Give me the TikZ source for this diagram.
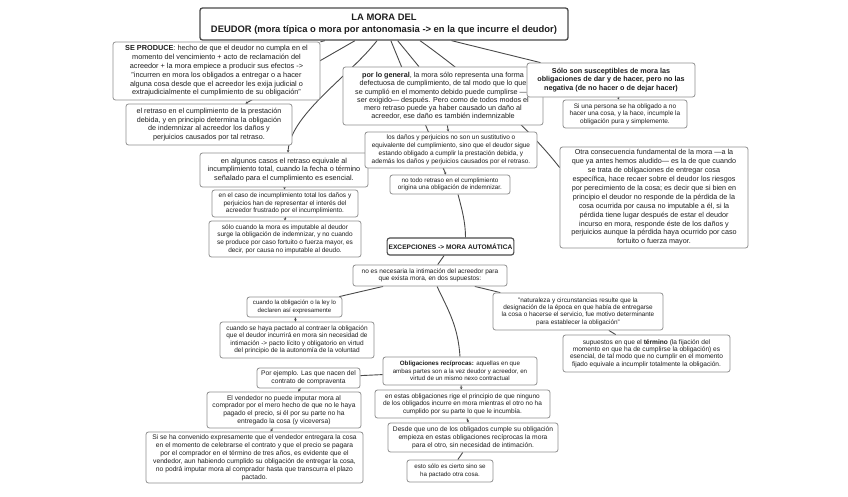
\documentclass[tikz,border=0pt]{standalone}
\usepackage{fontspec}
\setmainfont{Liberation Sans}
\usetikzlibrary{arrows.meta,backgrounds,calc}
\definecolor{gris}{HTML}{8F8F8F}
\definecolor{grisosc}{HTML}{4A4A4A}
\definecolor{tinta}{HTML}{1E1E1E}
\newcommand{\tam}[2]{\fontsize{#1}{#2}\selectfont}

\begin{document}
\begin{tikzpicture}[x=1pt, y=-1pt,
    concepto/.style={draw=gris, line width=0.8pt, rounded corners=2.5pt, fill=white,
      align=center, inner sep=1.5pt, text=tinta},
    titulo/.style={concepto, draw=grisosc, line width=1.3pt, font=\tam{9.4}{12.5}\bfseries},
    enlace/.style={draw=grisosc, line width=0.9pt},
    flecha/.style={enlace, -{Stealth[length=2.5pt,width=2.5pt]}}]
  \useasboundingbox (0,0) rectangle (848,496);
  \begin{scope}[on background layer]
    \fill[white] (0,0) rectangle (848,496);
  \end{scope}

  % columna izquierda
  \node[titulo, minimum width=368pt, minimum height=32pt] (mora) at (384,24)
    {LA MORA DEL\\ DEUDOR (mora típica o mora por antonomasia -> en la que incurre el deudor)};
  \node[concepto, minimum width=207pt, minimum height=58pt, font=\tam{7.3}{8.8}] (produce) at (216.5,71)
    {\textbf{SE PRODUCE}: hecho de que el deudor no cumpla en el\\ momento del vencimiento + acto de reclamación del\\
     acreedor + la mora empiece a producir sus efectos ->\\ "incurren en mora los obligados a entregar o a hacer\\
     alguna cosa desde que el acreedor les exija judicial o\\ extrajudicialmente el cumplimiento de su obligación"};
  \node[concepto, minimum width=166pt, minimum height=41pt, font=\tam{7.2}{8.5}] (retraso) at (209,124.5)
    {el retraso en el cumplimiento de la prestación\\ debida, y en principio determina la obligación\\
     de indemnizar al acreedor los daños y\\ perjuicios causados por tal retraso.};
  \node[concepto, minimum width=168pt, minimum height=34pt, font=\tam{7.3}{8.7}] (algunos) at (284,170)
    {en algunos casos el retraso equivale al\\ incumplimiento total, cuando la fecha o término\\
     señalado para el cumplimiento es esencial.};
  \node[concepto, minimum width=146pt, minimum height=27pt, font=\tam{6.5}{7.3}] (caso) at (285,203.5)
    {en el caso de incumplimiento total los daños y\\ perjuicios han de representar el interés del\\
     acreedor frustrado por el incumplimiento.};
  \node[concepto, minimum width=152pt, minimum height=36pt, font=\tam{6.5}{7.6}] (solo) at (285,239)
    {sólo cuando la mora es imputable al deudor\\ surge la obligación de indemnizar, y no cuando\\
     se produce por caso fortuito o fuerza mayor, es\\ decir, por causa no imputable al deudo.};

  % centro y derecha
  \node[concepto, minimum width=200pt, minimum height=58pt, font=\tam{7.2}{8.3}] (general) at (443,96)
    {\textbf{por lo general}, la mora sólo representa una forma\\ defectuosa de cumplimiento, de tal modo que lo que\\
     se cumplió en el momento debido puede cumplirse —o\\ ser exigido— después. Pero como de todos modos el\\
     mero retraso puede ya haber causado un daño al\\ acreedor, ese daño es también indemnizable};
  \node[concepto, minimum width=168pt, minimum height=34pt, font=\tam{7.2}{8.3}\bfseries] (susceptibles) at (611,80)
    {Sólo son susceptibles de mora las\\ obligaciones de dar y de hacer, pero no las\\ negativa (de no hacer o de dejar hacer)};
  \node[concepto, minimum width=124pt, minimum height=28pt, font=\tam{6.5}{7.5}] (persona) at (625,114)
    {Si una persona se ha obligado a no\\ hacer una cosa, y la hace, incumple la\\ obligación pura y simplemente.};
  \node[concepto, minimum width=172pt, minimum height=36pt, font=\tam{6.5}{7.8}] (danos) at (451,150)
    {los daños y perjuicios no son un sustitutivo o\\ equivalente del cumplimiento, sino que el deudor sigue\\
     estando obligado a cumplir la prestación debida, y\\ además los daños y perjuicios causados por el retraso.};
  \node[concepto, minimum width=120pt, minimum height=19pt, font=\tam{6.3}{7}] (notodo) at (450,184.5)
    {no todo retraso en el cumplimiento\\ origina una obligación de indemnizar.};
  \node[concepto, minimum width=188pt, minimum height=101pt, font=\tam{7.2}{8.9}] (otra) at (654,197.5)
    {Otra consecuencia fundamental de la mora —a la\\ que ya antes hemos aludido— es la de que cuando\\
     se trata de obligaciones de entregar cosa\\ específica, hace recaer sobre el deudor los riesgos\\
     por perecimiento de la cosa; es decir que si bien en\\ principio el deudor no responde de la pérdida de la\\
     cosa ocurrida por causa no imputable a él, si la\\ pérdida tiene lugar después de estar el deudor\\
     incurso en mora, responde éste de los daños y\\ perjuicios aunque la pérdida haya ocurrido por caso\\
     fortuito o fuerza mayor.};

  % excepciones
  \node[concepto, draw=grisosc, line width=1.1pt, minimum width=125pt, minimum height=17pt,
        font=\tam{6.6}{8}\bfseries] (excep) at (450.5,246.5) {EXCEPCIONES -> MORA AUTOMÁTICA};
  \node[concepto, minimum width=154pt, minimum height=21pt, font=\tam{6.5}{7.2}] (intimacion) at (430,275.5)
    {no es necesaria la intimación del acreedor para\\ que exista mora, en dos supuestos:};
  \node[concepto, minimum width=95pt, minimum height=20pt, font=\tam{6.1}{7.8}] (ley) at (294.5,307)
    {cuando la obligación o la ley lo\\ declaren así expresamente};
  \node[concepto, minimum width=154pt, minimum height=36pt, font=\tam{6.5}{7.5}] (pacto) at (297,340)
    {cuando se haya pactado al contraer la obligación\\ que el deudor incurrirá en mora sin necesidad de\\
     intimación -> pacto lícito y obligatorio en virtud\\ del principio de la autonomía de la voluntad};
  \node[concepto, minimum width=170pt, minimum height=37pt, font=\tam{6.4}{7.3}] (naturaleza) at (578,311.5)
    {"naturaleza y circunstancias resulte que la\\ designación de la época en que había de entregarse\\
     la cosa o hacerse el servicio, fue motivo determinante\\ para establecer la obligación"};
  \node[concepto, minimum width=167pt, minimum height=37pt, font=\tam{6.6}{7.3}] (termino) at (646.5,353.5)
    {supuestos en que el \textbf{término} (la fijación del\\ momento en que ha de cumplirse la obligación) es\\
     esencial, de tal modo que no cumplir en el momento\\ fijado equivale a incumplir totalmente la obligación.};
  \node[concepto, minimum width=154pt, minimum height=28pt, font=\tam{6.2}{7.5}] (reciprocas) at (460,371)
    {\textbf{Obligaciones recíprocas:} aquellas en que\\ ambas partes son a la vez deudor y acreedor, en\\
     virtud de un mismo nexo contractual};
  \node[concepto, minimum width=175pt, minimum height=28pt, font=\tam{6.5}{7.5}] (rige) at (462.5,404)
    {en estas obligaciones rige el principio de que ninguno\\ de los obligados incurre en mora mientras el otro no ha\\
     cumplido por su parte lo que le incumbía.};
  \node[concepto, minimum width=170pt, minimum height=29pt, font=\tam{6.7}{8}] (desde) at (473,437.5)
    {Desde que uno de los obligados cumple su obligación\\ empieza en estas obligaciones recíprocas la mora\\
     para el otro, sin necesidad de intimación.};
  \node[concepto, minimum width=86pt, minimum height=22pt, font=\tam{6.2}{8.2}] (cierto) at (450,471)
    {esto sólo es cierto sino se\\ ha pactado otra cosa.};
  \node[concepto, minimum width=103pt, minimum height=20pt, font=\tam{6.7}{8}] (ejemplo) at (308.5,378)
    {Por ejemplo. Las que nacen del\\ contrato de compraventa};
  \node[concepto, minimum width=154pt, minimum height=36pt, font=\tam{6.7}{7.8}] (vendedor) at (284,410)
    {El vendedor no puede imputar mora al\\ comprador por el mero hecho de que no le haya\\
     pagado el precio, si él por su parte no ha\\ entregado la cosa (y viceversa)};
  \node[concepto, minimum width=217pt, minimum height=51pt, font=\tam{6.7}{8}] (convenido) at (254.5,457.5)
    {Si se ha convenido expresamente que el vendedor entregara la cosa\\ en el momento de celebrarse el contrato y que el precio se pagara\\
     por el comprador en el término de tres años, es evidente que el\\ vendedor, aun habiendo cumplido su obligación de entregar la cosa,\\
     no podrá imputar mora al comprador hasta que transcurra el plazo\\ pactado.};

  % enlaces
  \begin{scope}[on background layer]
    \draw[enlace] (mora) -- (produce);
    \draw[flecha] (mora) -- (retraso);
    \draw[flecha] ($(mora.south)+(-7,0)$) .. controls +(-27,35) and +(2,-38) .. ($(algunos.north)+(4,0)$);
    \draw[flecha] (algunos) -- (caso);
    \draw[flecha] (caso) -- (solo);
    \draw[enlace] (mora) -- (general);
    \draw[flecha] (general) -- (danos);
    \draw[flecha] (mora) -- (notodo);
    \draw[enlace] (mora) -- (susceptibles);
    \draw[flecha] (susceptibles) -- (persona);
    \draw[enlace] ($(mora.south)+(36,0)$) .. controls +(45,32) and +(-35,-45) .. ($(otra.west)+(0,-30)$);
    \draw[enlace] ($(notodo.south)+(8,0)$) .. controls +(4,15) and +(0,-15) .. ($(excep.north)+(15,0)$);
    \draw[enlace] (excep) -- (intimacion);
    \draw[enlace] (intimacion) -- (ley);
    \draw[enlace] (intimacion) -- (naturaleza);
    \draw[enlace] ($(intimacion.south)+(7,0)$) .. controls +(12,25) and +(-2,-30) .. (reciprocas.north);
    \draw[flecha] (ley) -- (pacto);
    \draw[enlace] (naturaleza) -- (termino);
    \draw[enlace] (reciprocas) -- (ejemplo);
    \draw[flecha] (reciprocas) -- (rige);
    \draw[flecha] (rige) -- (desde);
    \draw[enlace] (desde) -- (cierto);
    \draw[flecha] (ejemplo) -- (vendedor);
    \draw[flecha] (vendedor) -- (convenido);
  \end{scope}
\end{tikzpicture}
\end{document}
